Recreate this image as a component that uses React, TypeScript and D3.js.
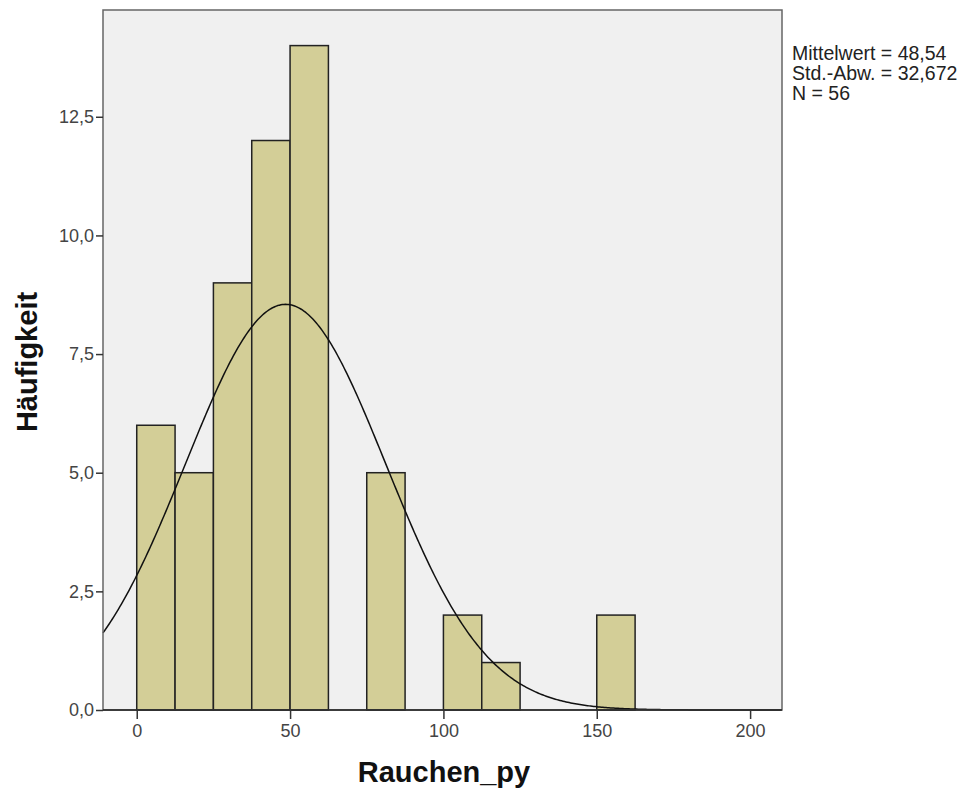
import { useEffect, useRef } from "react";
import * as d3 from "d3";

// histogram bins of Rauchen_py (bin width 12.5)
const binStarts = [0, 12.5, 25, 37.5, 50, 62.5, 75, 87.5, 100, 112.5, 125, 137.5, 150];
const binCounts = [6, 5, 9, 12, 14, 0, 5, 0, 2, 1, 0, 0, 2];
const binWidth = 12.5;

const xTicks = [0, 50, 100, 150, 200];
const yTicks = [0, 2.5, 5, 7.5, 10, 12.5];

const meanValue = 48.54;
const sdValue = 32.672;
const nValue = 56;
const statLines = ["Mittelwert = 48,54", "Std.-Abw. = 32,672", "N = 56"];

const W = 966;
const H = 789;
const plot = { left: 103, top: 10, right: 782, bottom: 710 };
const font = "Liberation Sans, Arial, sans-serif";

const fmtY = (v: number) => v.toFixed(1).replace(".", ",");

export default function App() {
  const ref = useRef<SVGSVGElement>(null);

  useEffect(() => {
    const svg = d3.select(ref.current);
    svg.selectAll("*").remove();

    const x = d3.scaleLinear().domain([-11, 210.4]).range([plot.left, plot.right]);
    const y = d3.scaleLinear().domain([0, 14.75]).range([plot.bottom, plot.top]);

    svg
      .append("rect")
      .attr("x", plot.left)
      .attr("y", plot.top)
      .attr("width", plot.right - plot.left)
      .attr("height", plot.bottom - plot.top)
      .attr("fill", "#f0f0f0");

    // bars
    svg
      .append("g")
      .selectAll("rect")
      .data(binStarts.map((s, i) => ({ s, c: binCounts[i] })).filter((d) => d.c > 0))
      .join("rect")
      .attr("x", (d) => x(d.s))
      .attr("y", (d) => y(d.c))
      .attr("width", (d) => x(d.s + binWidth) - x(d.s))
      .attr("height", (d) => y(0) - y(d.c))
      .attr("fill", "#d3ce97")
      .attr("stroke", "#222")
      .attr("stroke-width", 1.5);

    // normal curve from mean / sd / N
    const scale = (nValue * binWidth) / (sdValue * Math.sqrt(2 * Math.PI));
    const pts = d3.range(-11, 210.5, 0.5).map((v) => [
      v,
      scale * Math.exp(-((v - meanValue) ** 2) / (2 * sdValue * sdValue)),
    ]);
    svg
      .append("path")
      .datum(pts)
      .attr("fill", "none")
      .attr("stroke", "#111")
      .attr("stroke-width", 1.5)
      .attr(
        "d",
        d3
          .line<number[]>()
          .x((d) => x(d[0]))
          .y((d) => y(d[1]))
      );

    // frame
    svg
      .append("rect")
      .attr("x", plot.left)
      .attr("y", plot.top)
      .attr("width", plot.right - plot.left)
      .attr("height", plot.bottom - plot.top)
      .attr("fill", "none")
      .attr("stroke", "#666")
      .attr("stroke-width", 1.5);
    svg
      .append("line")
      .attr("x1", plot.left)
      .attr("x2", plot.right)
      .attr("y1", plot.bottom)
      .attr("y2", plot.bottom)
      .attr("stroke", "#222")
      .attr("stroke-width", 1.5);

    // x axis
    const xa = svg
      .append("g")
      .attr("transform", `translate(0,${plot.bottom})`)
      .call(d3.axisBottom(x).tickValues(xTicks).tickSize(9).tickPadding(5));
    xa.select(".domain").remove();
    xa.selectAll("line").attr("stroke", "#333").attr("stroke-width", 1.5);
    xa.selectAll("text").attr("fill", "#444").attr("font-size", 18).attr("font-family", font);

    // y axis
    const ya = svg
      .append("g")
      .attr("transform", `translate(${plot.left},0)`)
      .call(d3.axisLeft(y).tickValues(yTicks).tickFormat((v) => fmtY(+v)).tickSize(7).tickPadding(2));
    ya.select(".domain").remove();
    ya.selectAll("line").attr("stroke", "#333").attr("stroke-width", 1.5);
    ya.selectAll("text").attr("fill", "#444").attr("font-size", 18).attr("font-family", font);

    // titles
    svg
      .append("text")
      .attr("x", 444)
      .attr("y", 782)
      .attr("text-anchor", "middle")
      .attr("font-family", font)
      .attr("font-weight", "bold")
      .attr("font-size", 29)
      .attr("fill", "#111")
      .text("Rauchen_py");
    svg
      .append("text")
      .attr("transform", `translate(37,362) rotate(-90)`)
      .attr("text-anchor", "middle")
      .attr("font-family", font)
      .attr("font-weight", "bold")
      .attr("font-size", 29)
      .attr("fill", "#111")
      .text("Häufigkeit");

    // stats box
    svg
      .append("g")
      .selectAll("text")
      .data(statLines)
      .join("text")
      .attr("x", 792)
      .attr("y", (_, i) => 60 + i * 20)
      .attr("font-family", font)
      .attr("font-size", 19.5)
      .attr("fill", "#222")
      .text((d) => d);
  }, []);

  return (
    <svg
      ref={ref}
      width={W}
      height={H}
      style={{ position: "absolute", left: 0, top: 0, background: "#fff" }}
    />
  );
}
